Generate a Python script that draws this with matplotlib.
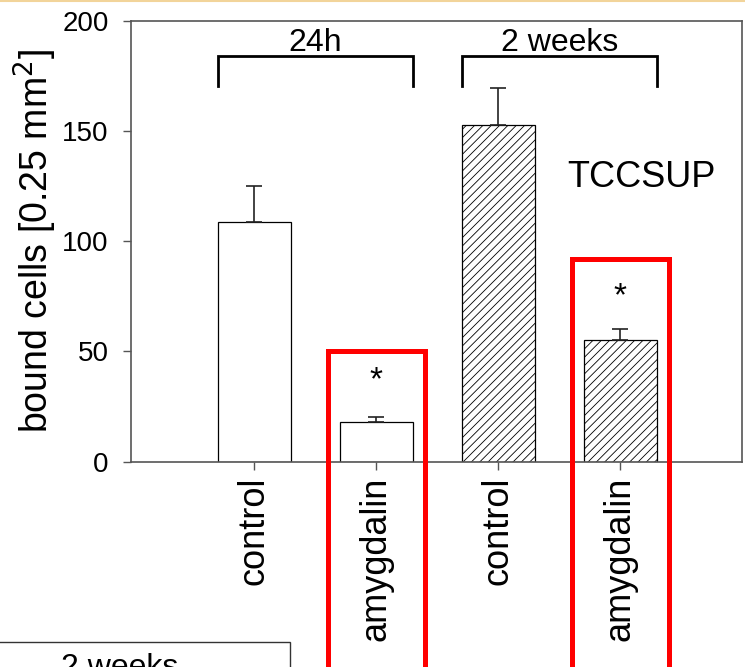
import matplotlib
matplotlib.use('Agg')
import matplotlib.pyplot as plt
from matplotlib.patches import Rectangle
from matplotlib.lines import Line2D

plt.rcParams['font.family'] = ['Liberation Sans', 'DejaVu Sans']
plt.rcParams['hatch.linewidth'] = 0.6

# data
labels = ['control', 'amygdalin', 'control', 'amygdalin']
values = [108.9, 18.0, 153.0, 55.2]
errors = [16.0, 2.3, 16.8, 5.0]
hatches = ['', '', '////', '////']
groups = ['24h', '2 weeks']
group_spans = [(-0.3, 1.3), (1.7, 3.3)]
star_bars = [1, 3]
star_y = [36.5, 75.0]
box_bars = [1, 3]
box_tops = [50.2, 92.0]

fig = plt.figure(figsize=(7.45, 6.67), dpi=100)
ax = fig.add_axes([131/745, 1 - 461.5/667, (742-131)/745, (461.5-21)/667])

x = list(range(len(values)))
for i in x:
    ax.bar(i, values[i], width=0.6, color='white', edgecolor='black',
           linewidth=0.9, hatch=hatches[i], zorder=2)
ax.errorbar(x, values, yerr=[[0]*len(errors), errors], fmt='none',
            ecolor='#222222', elinewidth=1.2, capsize=6, capthick=1.2, zorder=3)

ax.set_xlim(-1.012, 3.996)
ax.set_ylim(0, 200)
ax.set_yticks([0, 50, 100, 150, 200])
ax.set_xticks(x)
ax.set_xticklabels(labels, rotation=90, fontsize=26)
ax.tick_params(axis='y', labelsize=20, length=6, width=1, pad=10, color='#555555')
ax.tick_params(axis='x', length=6, width=1, pad=5, color='#555555')
for s in ax.spines.values():
    s.set_color('#555555')
    s.set_linewidth(1.2)
ax.set_ylabel('bound cells [0.25 mm$^2$]', fontsize=27, labelpad=2)

# group brackets
for name, (a, b) in zip(groups, group_spans):
    ax.plot([a, a, b, b], [170.7, 183.9, 183.9, 170.7], color='black',
            linewidth=2, solid_joinstyle='miter', zorder=3)
    ax.text((a + b) / 2, 190, name, fontsize=23, ha='center', va='center')

ax.text(3.17, 129, 'TCCSUP', fontsize=26, ha='center', va='center')

for b, y in zip(star_bars, star_y):
    ax.text(b, y, '*', fontsize=24, ha='center', va='center')

# red highlight boxes, running off the bottom of the figure
for b, top in zip(box_bars, box_tops):
    ax.add_patch(Rectangle((b - 0.4, -120), 0.8, top + 120, fill=False,
                           edgecolor='#ff0000', linewidth=3.6,
                           clip_on=False, zorder=5))

# fragment of the neighbouring panel, bottom left
box_y = 1 - 642/667
fig.patches.append(Rectangle((-0.01, -0.1), (290 + 7)/745, box_y + 0.1,
                             transform=fig.transFigure, fill=False,
                             edgecolor='#333333', linewidth=1))
fig.text(120/745, 1 - 676/667, '2 weeks', fontsize=23, ha='center',
         va='baseline')

# thin coloured line at the very top
fig.lines.append(Line2D([0, 1], [0.999, 0.999], transform=fig.transFigure,
                        color='#f2d49a', linewidth=1.5))

fig.savefig('out.png', dpi=100)
